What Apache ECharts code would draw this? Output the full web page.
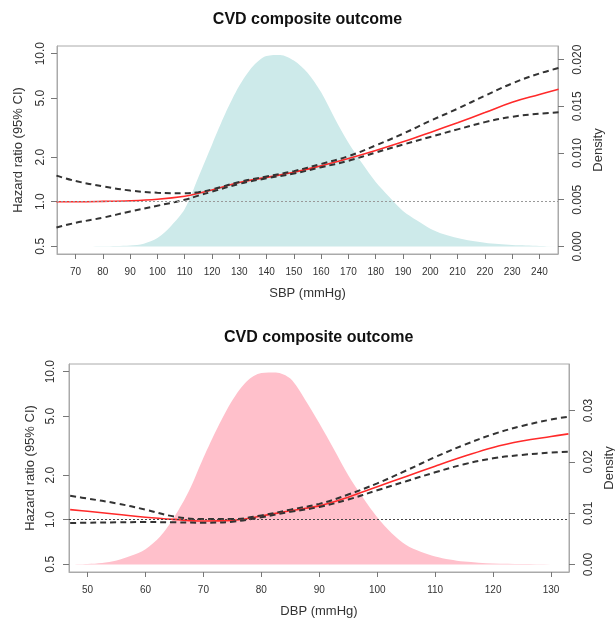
<!DOCTYPE html>
<html>
<head>
<meta charset="utf-8">
<script src="https://cdn.jsdelivr.net/npm/echarts@6/dist/echarts.min.js"></script>
<style>
  html, body { margin: 0; padding: 0; background: #fff; }
  #chart { width: 615px; height: 618px; }
</style>
</head>
<body>
<div id="chart"></div>
<script>
  // SBP panel
  const sbpX = [63, 70, 80, 90, 100, 110, 115, 120, 130, 140, 150, 160, 170, 180, 190, 200, 210, 220, 230, 240, 247]
  const sbpHr = [1.00, 1.00, 1.005, 1.015, 1.04, 1.09, 1.14, 1.20, 1.35, 1.46, 1.58, 1.75, 1.96, 2.22, 2.54, 2.94, 3.42, 4.00, 4.70, 5.30, 5.75]
  const sbpUpper = [1.50, 1.38, 1.27, 1.19, 1.15, 1.14, 1.16, 1.21, 1.36, 1.48, 1.61, 1.80, 2.03, 2.40, 2.88, 3.52, 4.25, 5.20, 6.30, 7.35, 8.0]
  const sbpLower = [0.67, 0.72, 0.78, 0.86, 0.94, 1.03, 1.10, 1.17, 1.32, 1.44, 1.55, 1.71, 1.89, 2.15, 2.43, 2.74, 3.08, 3.45, 3.75, 3.93, 4.02]
  const sbpDensX = [63, 70, 75, 80, 85, 90, 95, 100, 105, 110, 115, 120, 125, 130, 135, 140, 145, 150, 155, 160, 165, 170, 175, 180, 185, 190, 195, 200, 205, 210, 215, 220, 225, 230, 235, 240, 247]
  const sbpDens = [0, 0, 0, 0.00002, 0.00005, 0.0001, 0.0003, 0.0009, 0.0022, 0.0040, 0.0074, 0.0109, 0.0143, 0.0172, 0.0193, 0.0204, 0.0205, 0.0199, 0.0186, 0.0165, 0.0137, 0.0111, 0.0089, 0.0069, 0.0053, 0.0038, 0.0028, 0.0019, 0.0013, 0.0009, 0.0006, 0.0004, 0.00025, 0.00015, 0.0001, 0.00005, 0.00002]
  const sbpTicks = [70, 80, 90, 100, 110, 120, 130, 140, 150, 160, 170, 180, 190, 200, 210, 220, 230, 240]
  const sbpDensTicks = [0, 0.005, 0.010, 0.015, 0.020]

  // DBP panel
  const dbpX = [47, 50, 55, 60, 65, 70, 75, 80, 85, 90, 95, 100, 105, 110, 115, 120, 125, 130, 133]
  const dbpHr = [1.17, 1.14, 1.09, 1.04, 1.005, 0.98, 0.99, 1.06, 1.15, 1.24, 1.42, 1.67, 1.96, 2.30, 2.68, 3.08, 3.40, 3.65, 3.80]
  const dbpUpper = [1.45, 1.39, 1.29, 1.17, 1.05, 1.01, 1.01, 1.07, 1.17, 1.28, 1.48, 1.76, 2.15, 2.65, 3.20, 3.78, 4.30, 4.75, 4.96]
  const dbpLower = [0.95, 0.955, 0.96, 0.965, 0.96, 0.955, 0.97, 1.04, 1.13, 1.22, 1.37, 1.58, 1.82, 2.09, 2.37, 2.60, 2.74, 2.84, 2.88]
  const dbpDensX = [47, 50, 52.5, 55, 57.5, 60, 62.5, 65, 67.5, 70, 72.5, 75, 77.5, 80, 82.5, 85, 87.5, 90, 92.5, 95, 97.5, 100, 102.5, 105, 107.5, 110, 112.5, 115, 120, 125, 130, 133]
  const dbpDens = [0, 0.0001, 0.0003, 0.0008, 0.0017, 0.0030, 0.0054, 0.0093, 0.0143, 0.0208, 0.0268, 0.0320, 0.0357, 0.0373, 0.0374, 0.0362, 0.0322, 0.0275, 0.0225, 0.0174, 0.0131, 0.0092, 0.0061, 0.0038, 0.0025, 0.0016, 0.0010, 0.0006, 0.0002, 0.0001, 0.00003, 0]
  const dbpTicks = [50, 60, 70, 80, 90, 100, 110, 120, 130]
  const dbpDensTicks = [0, 0.01, 0.02, 0.03]

  const hrTicks = [0.5, 1, 2, 5, 10]

  const FONT = 'Liberation Sans, Arial, sans-serif'
  const lg = v => Math.log10(v)
  const pairs = (xs, ys, f) => xs.map((x, i) => [x, f ? f(ys[i]) : ys[i]])

  function xAxisOpt (grid, min, max, name, ticks) {
    return {
      type: 'value', gridIndex: grid, min: min, max: max,
      name: name, nameLocation: 'middle', nameGap: 33,
      nameTextStyle: { fontSize: 13, color: '#333', fontFamily: FONT },
      axisLine: { show: true, onZero: false, lineStyle: { color: '#aaa' } },
      axisTick: { show: true, customValues: ticks, length: 5, lineStyle: { color: '#777' } },
      axisLabel: { customValues: ticks, fontSize: 10, color: '#333', margin: 13, fontFamily: FONT },
      splitLine: { show: false }
    }
  }

  function hrAxisOpt (grid, nameGap, margin) {
    return {
      type: 'value', gridIndex: grid, position: 'left',
      min: lg(0.4435), max: lg(11.27),
      name: 'Hazard ratio (95% CI)', nameLocation: 'middle', nameGap: nameGap,
      nameTextStyle: { fontSize: 13, color: '#333', fontFamily: FONT },
      axisLine: { show: true, onZero: false, lineStyle: { color: '#aaa' } },
      axisTick: { show: true, customValues: hrTicks.map(lg), length: 6, lineStyle: { color: '#777' } },
      axisLabel: {
        customValues: hrTicks.map(lg), rotate: 90, fontSize: 12, color: '#333', margin: margin, fontFamily: FONT,
        formatter: v => Math.pow(10, v).toFixed(1)
      },
      splitLine: { show: false }
    }
  }

  function densAxisOpt (grid, min, max, ticks, digits, nameGap, margin) {
    return {
      type: 'value', gridIndex: grid, position: 'right', min: min, max: max,
      name: 'Density', nameLocation: 'middle', nameGap: nameGap,
      nameTextStyle: { fontSize: 13, color: '#333', fontFamily: FONT },
      axisLine: { show: true, onZero: false, lineStyle: { color: '#aaa' } },
      axisTick: { show: true, customValues: ticks, length: 6, lineStyle: { color: '#777' } },
      axisLabel: {
        customValues: ticks, rotate: 90, fontSize: 12, color: '#333', margin: margin, fontFamily: FONT,
        formatter: v => v.toFixed(digits)
      },
      splitLine: { show: false }
    }
  }

  function panelSeries (xi, yHr, yDens, color, densX, dens, x, hr, up, lo, dotColor) {
    return [
      {
        type: 'line', xAxisIndex: xi, yAxisIndex: yDens, data: pairs(densX, dens),
        smooth: 0.3, showSymbol: false, lineStyle: { width: 0 },
        areaStyle: { color: color, opacity: 1 }, silent: true, z: 1
      },
      {
        type: 'line', xAxisIndex: xi, yAxisIndex: yHr, data: pairs(x, hr, lg),
        smooth: 0.4, showSymbol: false, lineStyle: { color: '#ff2a2a', width: 1.6 }, z: 3,
        markLine: {
          silent: true, symbol: 'none', label: { show: false },
          lineStyle: { color: dotColor, type: [2, 2], width: 1 },
          data: [{ yAxis: 0 }]
        }
      },
      {
        type: 'line', xAxisIndex: xi, yAxisIndex: yHr, data: pairs(x, up, lg),
        smooth: 0.4, showSymbol: false, lineStyle: { color: '#333', width: 2, type: [6, 4] }, z: 4
      },
      {
        type: 'line', xAxisIndex: xi, yAxisIndex: yHr, data: pairs(x, lo, lg),
        smooth: 0.4, showSymbol: false, lineStyle: { color: '#333', width: 2, type: [6, 4] }, z: 4
      }
    ]
  }

  const chart = echarts.init(document.getElementById('chart'))
  chart.setOption({
    animation: false,
    backgroundColor: '#fff',
    title: [
      { text: 'CVD composite outcome', left: 'center', top: 12, padding: 0,
        textStyle: { fontSize: 16, fontWeight: 'bold', color: '#111', fontFamily: FONT } },
      { text: 'CVD composite outcome', left: 224, top: 330, padding: 0,
        textStyle: { fontSize: 16, fontWeight: 'bold', color: '#111', fontFamily: FONT } }
    ],
    grid: [
      { left: 57, right: 57, top: 46, height: 208, show: true, borderColor: '#aaa', borderWidth: 1, outerBoundsMode: 'none' },
      { left: 69, right: 46, top: 364, height: 208, show: true, borderColor: '#aaa', borderWidth: 1, outerBoundsMode: 'none' }
    ],
    xAxis: [
      xAxisOpt(0, 63.2, 246.8, 'SBP (mmHg)', sbpTicks),
      xAxisOpt(1, 46.8, 133.1, 'DBP (mmHg)', dbpTicks)
    ],
    yAxis: [
      hrAxisOpt(0, 32, 10),
      densAxisOpt(0, -0.00081, 0.02146, sbpDensTicks, 3, 29, 14),
      hrAxisOpt(1, 31, 12),
      densAxisOpt(1, -0.00144, 0.03904, dbpDensTicks, 2, 31, 14)
    ],
    series: [].concat(
      panelSeries(0, 0, 1, '#cdeaea', sbpDensX, sbpDens, sbpX, sbpHr, sbpUpper, sbpLower, '#999'),
      panelSeries(1, 2, 3, '#ffc0cb', dbpDensX, dbpDens, dbpX, dbpHr, dbpUpper, dbpLower, '#444')
    )
  })
</script>
</body>
</html>
